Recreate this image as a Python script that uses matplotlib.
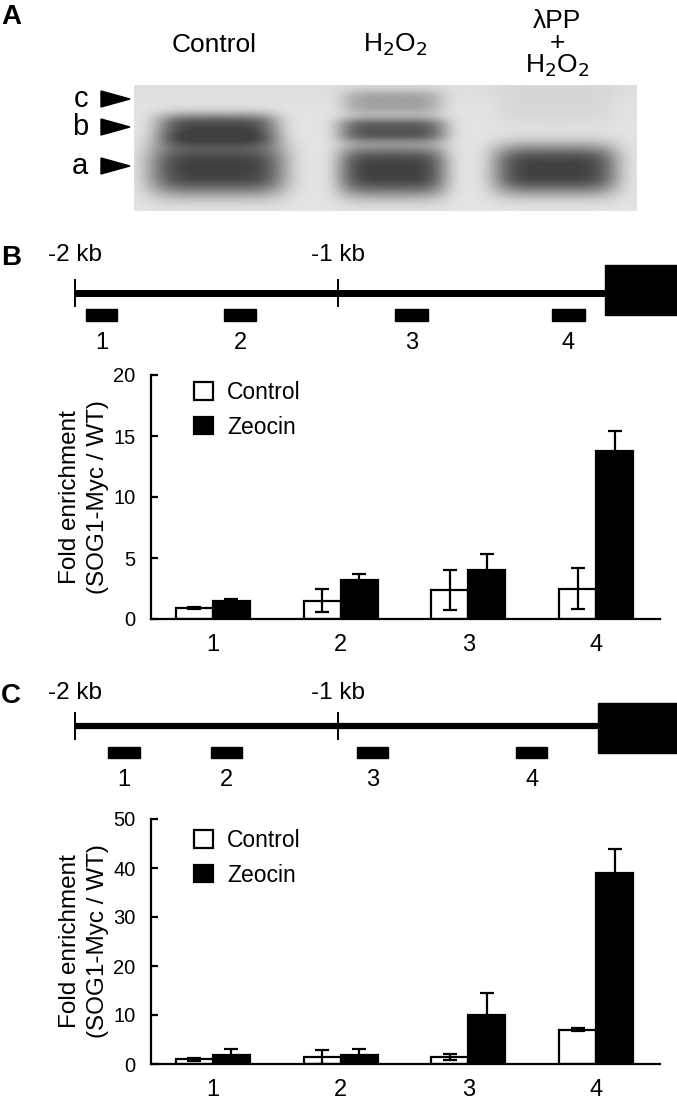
import numpy as np
import matplotlib
matplotlib.use("Agg")
import matplotlib.pyplot as plt
from matplotlib.patches import Rectangle, Polygon

plt.rcParams['font.family'] = ['Liberation Sans', 'DejaVu Sans']

# ---------------- data ----------------
lane_labels = ["Control", "H$_2$O$_2$", "\u03bbPP\n+\nH$_2$O$_2$"]
band_labels = ["c", "b", "a"]
# relative band darkness per lane (rows: c, b, a)
band_intensity = [
    [0.00, 0.40, 0.07],   # c
    [0.95, 0.85, 0.00],   # b
    [1.00, 1.00, 1.00],   # a
]

sites = ["1", "2", "3", "4"]
# primer amplicon positions (kb relative to TSS)
ampB_start = [-1.958, -1.433, -0.783, -0.186]
ampB_end = [-1.840, -1.312, -0.658, -0.061]
ampC_start = [-1.875, -1.483, -0.928, -0.323]
ampC_end = [-1.753, -1.365, -0.810, -0.205]
kb_ticks = [-2, -1]
kb_labels = ["-2 kb", "-1 kb"]

B_control = [0.9, 1.5, 2.4, 2.5]
B_control_err = [0.1, 0.95, 1.65, 1.65]
B_zeocin = [1.5, 3.2, 4.0, 13.8]
B_zeocin_err = [0.15, 0.45, 1.3, 1.6]

C_control = [1.0, 1.4, 1.4, 7.0]
C_control_err = [0.3, 1.4, 0.6, 0.3]
C_zeocin = [1.9, 1.9, 10.0, 38.9]
C_zeocin_err = [1.2, 1.2, 4.4, 5.0]

W, H = 677, 1107
fig = plt.figure(figsize=(W / 100, H / 100), dpi=100)

# overlay in pixel coordinates for panel letters and blot
ov = fig.add_axes([0, 0, 1, 1])
ov.set_xlim(0, W)
ov.set_ylim(H, 0)
ov.axis('off')

for letter, y in [("A", 17), ("B", 258), ("C", 696)]:
    ov.text(1, y, letter, fontsize=20, fontweight='bold', va='center', ha='left')

# ---------------- Panel A : blot ----------------
bx0, bx1, by0, by1 = 134, 637, 85, 211
xs = np.arange(bx0, bx1)
ys = np.arange(by0, by1)
X, Y = np.meshgrid(xs, ys)
lane_c = [217, 392, 555]
lane_hw = [[60, 50, 60], [60, 54, 55], [68, 54, 62]]   # per band(c,b,a) per lane
band_y = [[103, 102, 103], [129, 129, 129], [168, 170, 169]]
band_hh = [[12, 13, 24], [16, 12, 14], [27, 26, 25]]
dark = np.zeros_like(X, dtype=float)
for li in range(3):
    for bi in range(3):
        inten = band_intensity[bi][li]
        if inten <= 0:
            continue
        hw = lane_hw[bi][li]
        px = np.exp(-np.abs((X - lane_c[li]) / hw) ** 5)
        py = np.exp(-np.abs((Y - band_y[bi][li]) / band_hh[bi][li]) ** 3)
        dark += inten * px * py
dark = np.clip(dark, 0, 1)
bg = 0.89 - 0.02 * np.exp(-((Y - by0) / 20.0) ** 2)
img = bg - (bg - 0.25) * dark
ov.imshow(img, cmap='gray', vmin=0, vmax=1, extent=[bx0, bx1, by1, by0],
          interpolation='bilinear', aspect='auto', zorder=1)

ov.text(214, 45, lane_labels[0], fontsize=19, ha='center', va='center')
ov.text(395, 45, lane_labels[1], fontsize=19, ha='center', va='center')
ov.text(557, 44, lane_labels[2], fontsize=19, ha='center', va='center',
        linespacing=0.9)
for lab, y in zip(band_labels, [99, 127, 166]):
    ov.text(88, y, lab, fontsize=21, ha='right', va='center')
    ov.add_patch(Polygon([[101, y - 8], [101, y + 8], [130, y]], closed=True,
                         color='black', zorder=3))

ov.set_xlim(0, W)
ov.set_ylim(H, 0)

# ---------------- gene diagrams ----------------
px_per_kb = 263.0
x_m2 = 75.0


def diagram(top_px, bot_px, line_y, line_lw, tick_half, box_y0, box_y1,
            tss, amp_s, amp_e, bar_y0, bar_y1, num_y, kb_y):
    ax = fig.add_axes([0, 1 - bot_px / H, 1, (bot_px - top_px) / H])
    ax.set_xlim(-2 - x_m2 / px_per_kb, -2 + (W - x_m2) / px_per_kb)
    ax.set_ylim(bot_px, top_px)
    ax.axis('off')
    ax.plot([-2, tss], [line_y, line_y], color='black', lw=line_lw,
            solid_capstyle='butt')
    for k, lab in zip(kb_ticks, kb_labels):
        ax.plot([k, k], [line_y - tick_half, line_y + tick_half],
                color='black', lw=1.4)
        ax.text(k, kb_y, lab, fontsize=17.5, ha='center', va='center')
    ax.add_patch(Rectangle((tss, box_y0), 1.0, box_y1 - box_y0,
                           color='black'))
    for s, e, lab in zip(amp_s, amp_e, sites):
        ax.add_patch(Rectangle((s, bar_y0), e - s, bar_y1 - bar_y0,
                               color='black'))
        ax.text((s + e) / 2, num_y, lab, fontsize=17, ha='center',
                va='center')


diagram(238, 362, 292.5, 5.0, 13, 265, 315, 0.015, ampB_start, ampB_end,
        309, 321, 343, 255)
diagram(678, 800, 726, 4.5, 13, 703, 753, -0.01, ampC_start, ampC_end,
        747, 758, 780, 693)

# ---------------- bar charts ----------------


def barchart(top_px, bot_px, ymax, step, ctrl, ctrl_e, zeo, zeo_e,
             leg_top_px):
    left, right = 151, 660
    ax = fig.add_axes([left / W, 1 - bot_px / H, (right - left) / W,
                       (bot_px - top_px) / H])
    x = np.arange(1, 5)
    w = 0.29
    ekw = dict(ecolor='black', elinewidth=1.6, capsize=5, capthick=1.6)
    ax.bar(x - w / 2, ctrl, w, color='white', edgecolor='black', lw=1.6,
           label='Control', zorder=2)
    ax.bar(x + w / 2, zeo, w, color='black', edgecolor='black', lw=1.6,
           label='Zeocin', zorder=2)
    ax.errorbar(x - w / 2, ctrl, yerr=ctrl_e, fmt='none', zorder=3, **ekw)
    ax.errorbar(x + w / 2, zeo, yerr=zeo_e, fmt='none', zorder=3, **ekw)
    ax.set_xlim(1 - 0.485, 4.5)
    ax.set_ylim(0, ymax)
    ax.set_yticks(np.arange(0, ymax + 0.1, step))
    ax.set_xticks(x)
    ax.set_xticklabels(sites, fontsize=17)
    ax.tick_params(axis='x', length=0, pad=11)
    ax.tick_params(axis='y', direction='in', length=5, width=1.6,
                   labelsize=14.5, pad=11)
    for s in ['top', 'right']:
        ax.spines[s].set_visible(False)
    for s in ['left', 'bottom']:
        ax.spines[s].set_linewidth(1.6)
    ax.set_ylabel("Fold enrichment\n(SOG1-Myc / WT)", fontsize=17.5,
                  linespacing=1.35, labelpad=3)
    leg_y = (bot_px - leg_top_px) / (bot_px - top_px)
    ax.legend(loc='upper left', bbox_to_anchor=(0.085, leg_y + 0.012),
              frameon=False, fontsize=16.5, handlelength=0.82,
              handleheight=0.82, handletextpad=0.6, labelspacing=0.5,
              borderaxespad=0, borderpad=0)
    return ax


barchart(375, 619, 20, 5, B_control, B_control_err, B_zeocin, B_zeocin_err,
         384)
barchart(819, 1064, 50, 10, C_control, C_control_err, C_zeocin, C_zeocin_err,
         832)

fig.savefig("out.png", dpi=100)
